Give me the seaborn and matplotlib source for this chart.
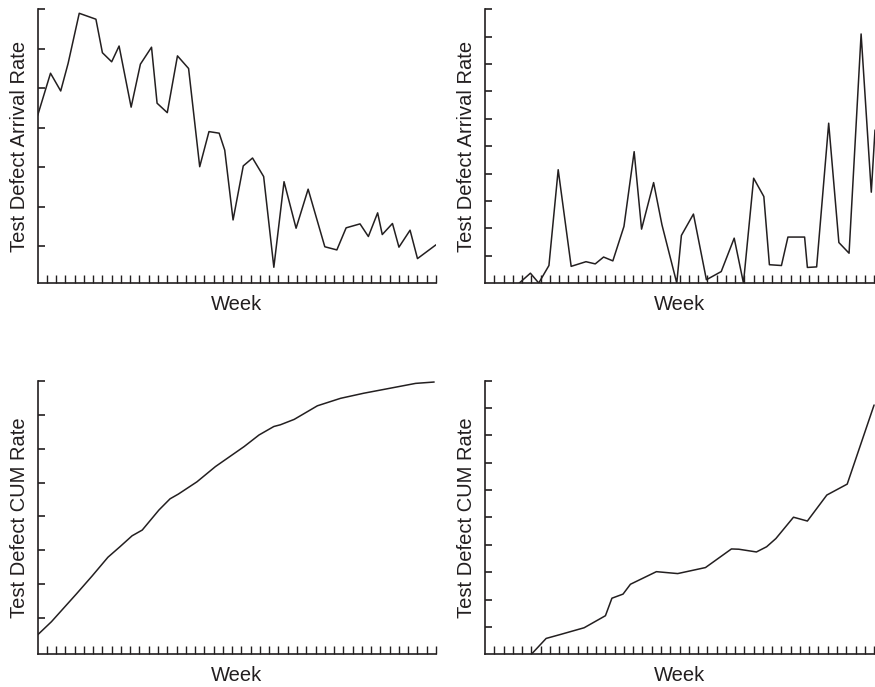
import matplotlib
matplotlib.use("Agg")
import matplotlib.pyplot as plt
import seaborn as sns

# arrival rate, release A (left) and release B (right)
weeks_a = [0, 1.4, 2.5, 3.3, 4.5, 6.3, 7.0, 8.0, 8.8, 10.1, 11.1, 12.3, 12.9, 14.0,
           15.1, 16.3, 17.5, 18.5, 19.6, 20.2, 21.1, 22.2, 23.2, 24.4, 25.5, 26.6,
           27.9, 29.2, 31.0, 32.3, 33.3, 34.8, 35.7, 36.7, 37.2, 38.3, 39.0, 40.2,
           41.0, 43.0]
arrival_a = [4.30, 5.38, 4.93, 5.63, 6.90, 6.75, 5.90, 5.67, 6.07, 4.52, 5.61, 6.04,
             4.62, 4.38, 5.82, 5.50, 3.01, 3.90, 3.86, 3.43, 1.66, 3.03, 3.23, 2.76,
             0.46, 2.63, 1.45, 2.44, 0.98, 0.90, 1.46, 1.56, 1.24, 1.84, 1.29, 1.57,
             0.97, 1.40, 0.68, 1.03]

weeks_b = [3.7, 4.9, 5.8, 6.9, 7.9, 9.3, 10.9, 11.9, 12.8, 13.8, 15.0, 16.1, 16.9,
           18.2, 19.1, 20.7, 21.2, 22.5, 23.9, 25.5, 26.9, 27.9, 29.0, 30.1, 30.7,
           32.0, 32.7, 34.5, 34.8, 35.8, 37.1, 38.2, 39.3, 40.6, 41.7, 42.1]
arrival_b = [0, 0.36, 0, 0.64, 4.14, 0.61, 0.78, 0.70, 0.95, 0.81, 2.07, 4.80, 1.97,
             3.67, 2.13, 0, 1.74, 2.52, 0.12, 0.42, 1.64, 0, 3.83, 3.16, 0.67, 0.64,
             1.68, 1.68, 0.57, 0.59, 5.84, 1.48, 1.09, 9.10, 3.32, 5.59]

# cumulative rate
weeks_cum_a = [0, 1.5, 4.2, 5.9, 7.6, 8.9, 10.2, 11.3, 13.1, 14.3, 15.2, 17.2, 19.2,
               22.3, 23.9, 25.5, 26.2, 27.7, 30.2, 32.7, 35.2, 38.1, 40.8, 42.8]
cum_a = [0.51, 0.90, 1.72, 2.25, 2.80, 3.11, 3.43, 3.60, 4.19, 4.52, 4.66, 5.02,
         5.47, 6.06, 6.40, 6.65, 6.70, 6.86, 7.26, 7.48, 7.63, 7.78, 7.92, 7.96]

weeks_cum_b = [5.0, 6.6, 8.2, 10.7, 13.0, 13.7, 14.9, 15.7, 18.5, 20.8, 23.8, 26.6,
               27.4, 29.3, 30.4, 31.4, 33.3, 34.8, 36.9, 39.1, 42.0]
cum_b = [0, 0.58, 0.73, 0.97, 1.41, 2.05, 2.20, 2.56, 3.02, 2.95, 3.17, 3.85, 3.84,
         3.74, 3.93, 4.23, 5.01, 4.87, 5.82, 6.22, 9.11]

sns.set_style("ticks")
plt.rcParams['font.family'] = ['Liberation Sans', 'DejaVu Sans']
ink = '#231f20'

fig = plt.figure(figsize=(8.75, 6.87), dpi=100)

panels = [
    # rect, x, y, ylabel, n_xticks, xmax, ylim
    ([0.0429, 0.588, 0.4554, 0.3984], weeks_a, arrival_a, 'Test Defect Arrival Rate', 43, 43, (0.06, 7)),
    ([0.5543, 0.588, 0.4457, 0.3984], weeks_b, arrival_b, 'Test Defect Arrival Rate', 42, 42.1, (0, 10)),
    ([0.0429, 0.0476, 0.4554, 0.3983], weeks_cum_a, cum_a, 'Test Defect CUM Rate', 43, 43, (-0.06, 8)),
    ([0.5543, 0.0476, 0.4457, 0.3983], weeks_cum_b, cum_b, 'Test Defect CUM Rate', 42, 42.1, (0, 10)),
]

for rect, x, y, ylabel, nticks, xmax, ylim in panels:
    ax = fig.add_axes(rect)
    sns.lineplot(x=x, y=y, ax=ax, color=ink, linewidth=1.1)
    ax.set_xlim(0, xmax)
    ax.set_ylim(*ylim)
    ax.set_xticks(range(1, nticks + 1))
    ax.set_yticks(range(1, int(ylim[1]) + 1))
    ax.set_xticklabels([])
    ax.set_yticklabels([])
    ax.tick_params(axis='x', direction='in', length=5.8, width=1.0, color=ink)
    ax.tick_params(axis='y', direction='in', length=5.0, width=1.2, color=ink)
    sns.despine(ax=ax)
    for side in ['left', 'bottom']:
        ax.spines[side].set_color(ink)
        ax.spines[side].set_linewidth(1.2)
    ax.set_xlabel('Week', fontsize=14.5, color=ink, labelpad=5)
    ax.set_ylabel(ylabel, fontsize=14.5, color=ink, labelpad=3)

fig.savefig('out.png', dpi=100)
